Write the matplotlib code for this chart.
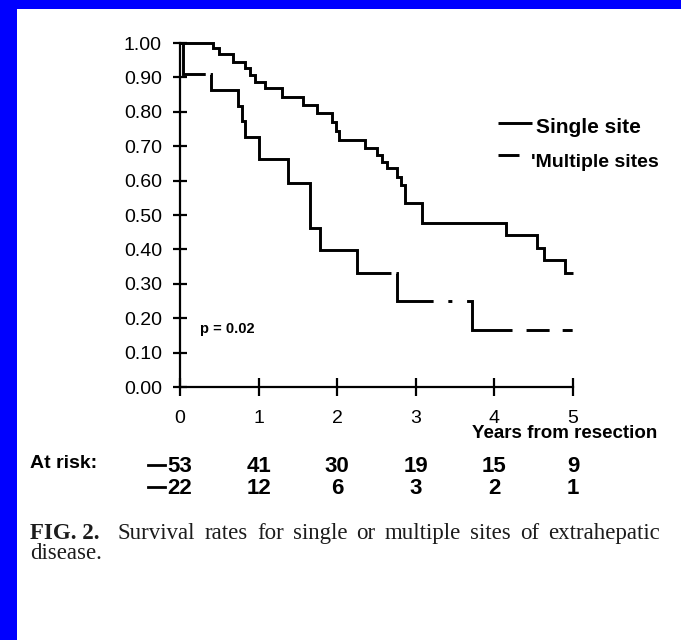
import numpy as np
import matplotlib
matplotlib.use('Agg')
import matplotlib.pyplot as plt
from matplotlib.patches import Rectangle
from matplotlib.lines import Line2D

# ---- data ----
t_single = [0.0, 0.42, 0.49, 0.68, 0.83, 0.89, 0.955, 1.08, 1.30, 1.57, 1.74, 1.93,
            1.98, 2.02, 2.36, 2.51, 2.57, 2.63, 2.76, 2.81, 2.86, 3.08, 4.15, 4.54,
            4.63, 4.90]
s_single = [1.0, 0.985, 0.967, 0.946, 0.926, 0.907, 0.888, 0.868, 0.844, 0.820, 0.796,
            0.770, 0.744, 0.718, 0.694, 0.674, 0.655, 0.636, 0.610, 0.587, 0.534, 0.478,
            0.442, 0.405, 0.369, 0.332]
t_multi = [0.0, 0.04, 0.40, 0.74, 0.79, 0.83, 1.00, 1.38, 1.66, 1.78, 2.25, 2.76, 3.71]
s_multi = [1.0, 0.909, 0.864, 0.818, 0.773, 0.727, 0.662, 0.594, 0.461, 0.398, 0.332,
           0.249, 0.166]
x_end = 5.0

y_ticks = [0.0, 0.1, 0.2, 0.3, 0.4, 0.5, 0.6, 0.7, 0.8, 0.9, 1.0]
y_tick_labels = ['0.00', '0.10', '0.20', '0.30', '0.40', '0.50', '0.60', '0.70',
                 '0.80', '0.90', '1.00']
x_ticks = [0, 1, 2, 3, 4, 5]
x_tick_labels = ['0', '1', '2', '3', '4', '5']
risk_single = [53, 41, 30, 19, 15, 9]
risk_multi = [22, 12, 6, 3, 2, 1]
legend_labels = ['Single site', "'Multiple sites"]
p_text = 'p = 0.02'
x_label = 'Years from resection'
risk_label = 'At risk:'
caption_bold = 'FIG. 2.'
caption_line1 = 'Survival rates for single or multiple sites of extrahepatic'
caption_line2 = 'disease.'

plt.rcParams['font.family'] = ['Liberation Sans', 'DejaVu Sans']
plt.rcParams['lines.scale_dashes'] = False

W, H = 681, 640
fig = plt.figure(figsize=(W / 100, H / 100), dpi=100, facecolor='white')
fig.patches.append(Rectangle((0, 0), 17 / W, 1, transform=fig.transFigure,
                             facecolor='#0000ff', edgecolor='none', zorder=-10))
fig.patches.append(Rectangle((0, 1 - 9 / H), 1, 9 / H, transform=fig.transFigure,
                             facecolor='#0000ff', edgecolor='none', zorder=-10))

ax = fig.add_axes([180 / W, 1 - 387 / H, 393 / W, 344 / H])
ax.set_xlim(0, 5)
ax.set_ylim(0, 1)
ax.patch.set_alpha(0)

ts = np.append(t_single, x_end)
ss = np.append(s_single, s_single[-1])
ax.step(ts, ss, where='post', color='black', lw=2.1, clip_on=False,
        solid_joinstyle='miter', solid_capstyle='butt')

tm = np.append(t_multi, x_end)
sm = np.append(s_multi, s_multi[-1])
dash = (0, (40.5, 3.6, 273.4, 3.6, 46.9, 10.6, 2.9, 10.6, 53.6, 10.1, 16.6, 9.4, 7.2, 30))
ax.step(tm, sm, where='post', color='black', lw=2.1, linestyle=dash, clip_on=False,
        dash_joinstyle='miter', dash_capstyle='butt')

for s in ['top', 'right']:
    ax.spines[s].set_visible(False)
for s in ['left', 'bottom']:
    ax.spines[s].set_linewidth(1.6)

ax.set_yticks(y_ticks)
ax.set_yticklabels(y_tick_labels)
ax.set_xticks(x_ticks)
ax.set_xticklabels(x_tick_labels)
ax.tick_params(axis='y', direction='inout', length=10, width=1.6, pad=8, labelsize=14)
ax.tick_params(axis='x', direction='inout', length=13, width=1.6, pad=10, labelsize=14)

# legend drawn by hand
ax.plot([0.809, 0.896], [0.768, 0.768], transform=ax.transAxes, color='black', lw=2.1,
        clip_on=False, solid_capstyle='butt')
ax.plot([0.809, 0.863], [0.674, 0.674], transform=ax.transAxes, color='black', lw=2.1,
        clip_on=False, solid_capstyle='butt')
ax.text(0.906, 0.753, legend_labels[0], transform=ax.transAxes, fontsize=15,
        fontweight='bold', va='center', ha='left')
ax.text(0.893, 0.654, legend_labels[1], transform=ax.transAxes, fontsize=14,
        fontweight='bold', va='center', ha='left')

ax.text(0.255, 0.17, p_text, fontsize=10.5, fontweight='bold', va='center', ha='left')

fig.text(657 / W, 1 - 434 / H, x_label, fontsize=13.5, fontweight='bold',
         ha='right', va='center')

# at-risk table
fig.text(30 / W, 1 - 463 / H, risk_label, fontsize=14, fontweight='bold', va='center')
xt = ax.get_xaxis_transform()
y_r1 = (387 - 466) / 344
y_r2 = (387 - 488) / 344
for i, (a, b) in enumerate(zip(risk_single, risk_multi)):
    ax.text(x_ticks[i], y_r1, str(a), transform=xt, fontsize=16, fontweight='bold',
            ha='center', va='center', clip_on=False)
    ax.text(x_ticks[i], y_r2, str(b), transform=xt, fontsize=16, fontweight='bold',
            ha='center', va='center', clip_on=False)
fig.add_artist(Line2D([148 / W, 165 / W], [1 - 465 / H] * 2, transform=fig.transFigure,
                      color='black', lw=2))
fig.add_artist(Line2D([148 / W, 165 / W], [1 - 487 / H] * 2, transform=fig.transFigure,
                      color='black', lw=2))

# caption, justified between px 30 and 660
cap_col = '#1c1c1c'
cap_size = 16.5
base1 = 1 - 539 / H
base2 = 1 - 559 / H
renderer = fig.canvas.get_renderer()
words = caption_line1.split(' ')
objs = [fig.text(0, base1, caption_bold, family='Liberation Serif', fontweight='bold',
                 fontsize=cap_size, va='baseline', ha='left', color=cap_col)]
for w in words:
    objs.append(fig.text(0, base1, w, family='Liberation Serif', fontsize=cap_size,
                         va='baseline', ha='left', color=cap_col))
widths = [o.get_window_extent(renderer).width for o in objs]
left, right = 30, 660
n_gaps = len(objs) - 1 + 1  # gap after the bold label counts double
gap = (right - left - sum(widths)) / n_gaps
x = left
for k, (o, wd) in enumerate(zip(objs, widths)):
    o.set_x(x / W)
    x += wd + (2 * gap if k == 0 else gap)
fig.text(30 / W, base2, caption_line2, family='Liberation Serif', fontsize=cap_size,
         va='baseline', ha='left', color=cap_col)

fig.savefig('out.png', dpi=100)
